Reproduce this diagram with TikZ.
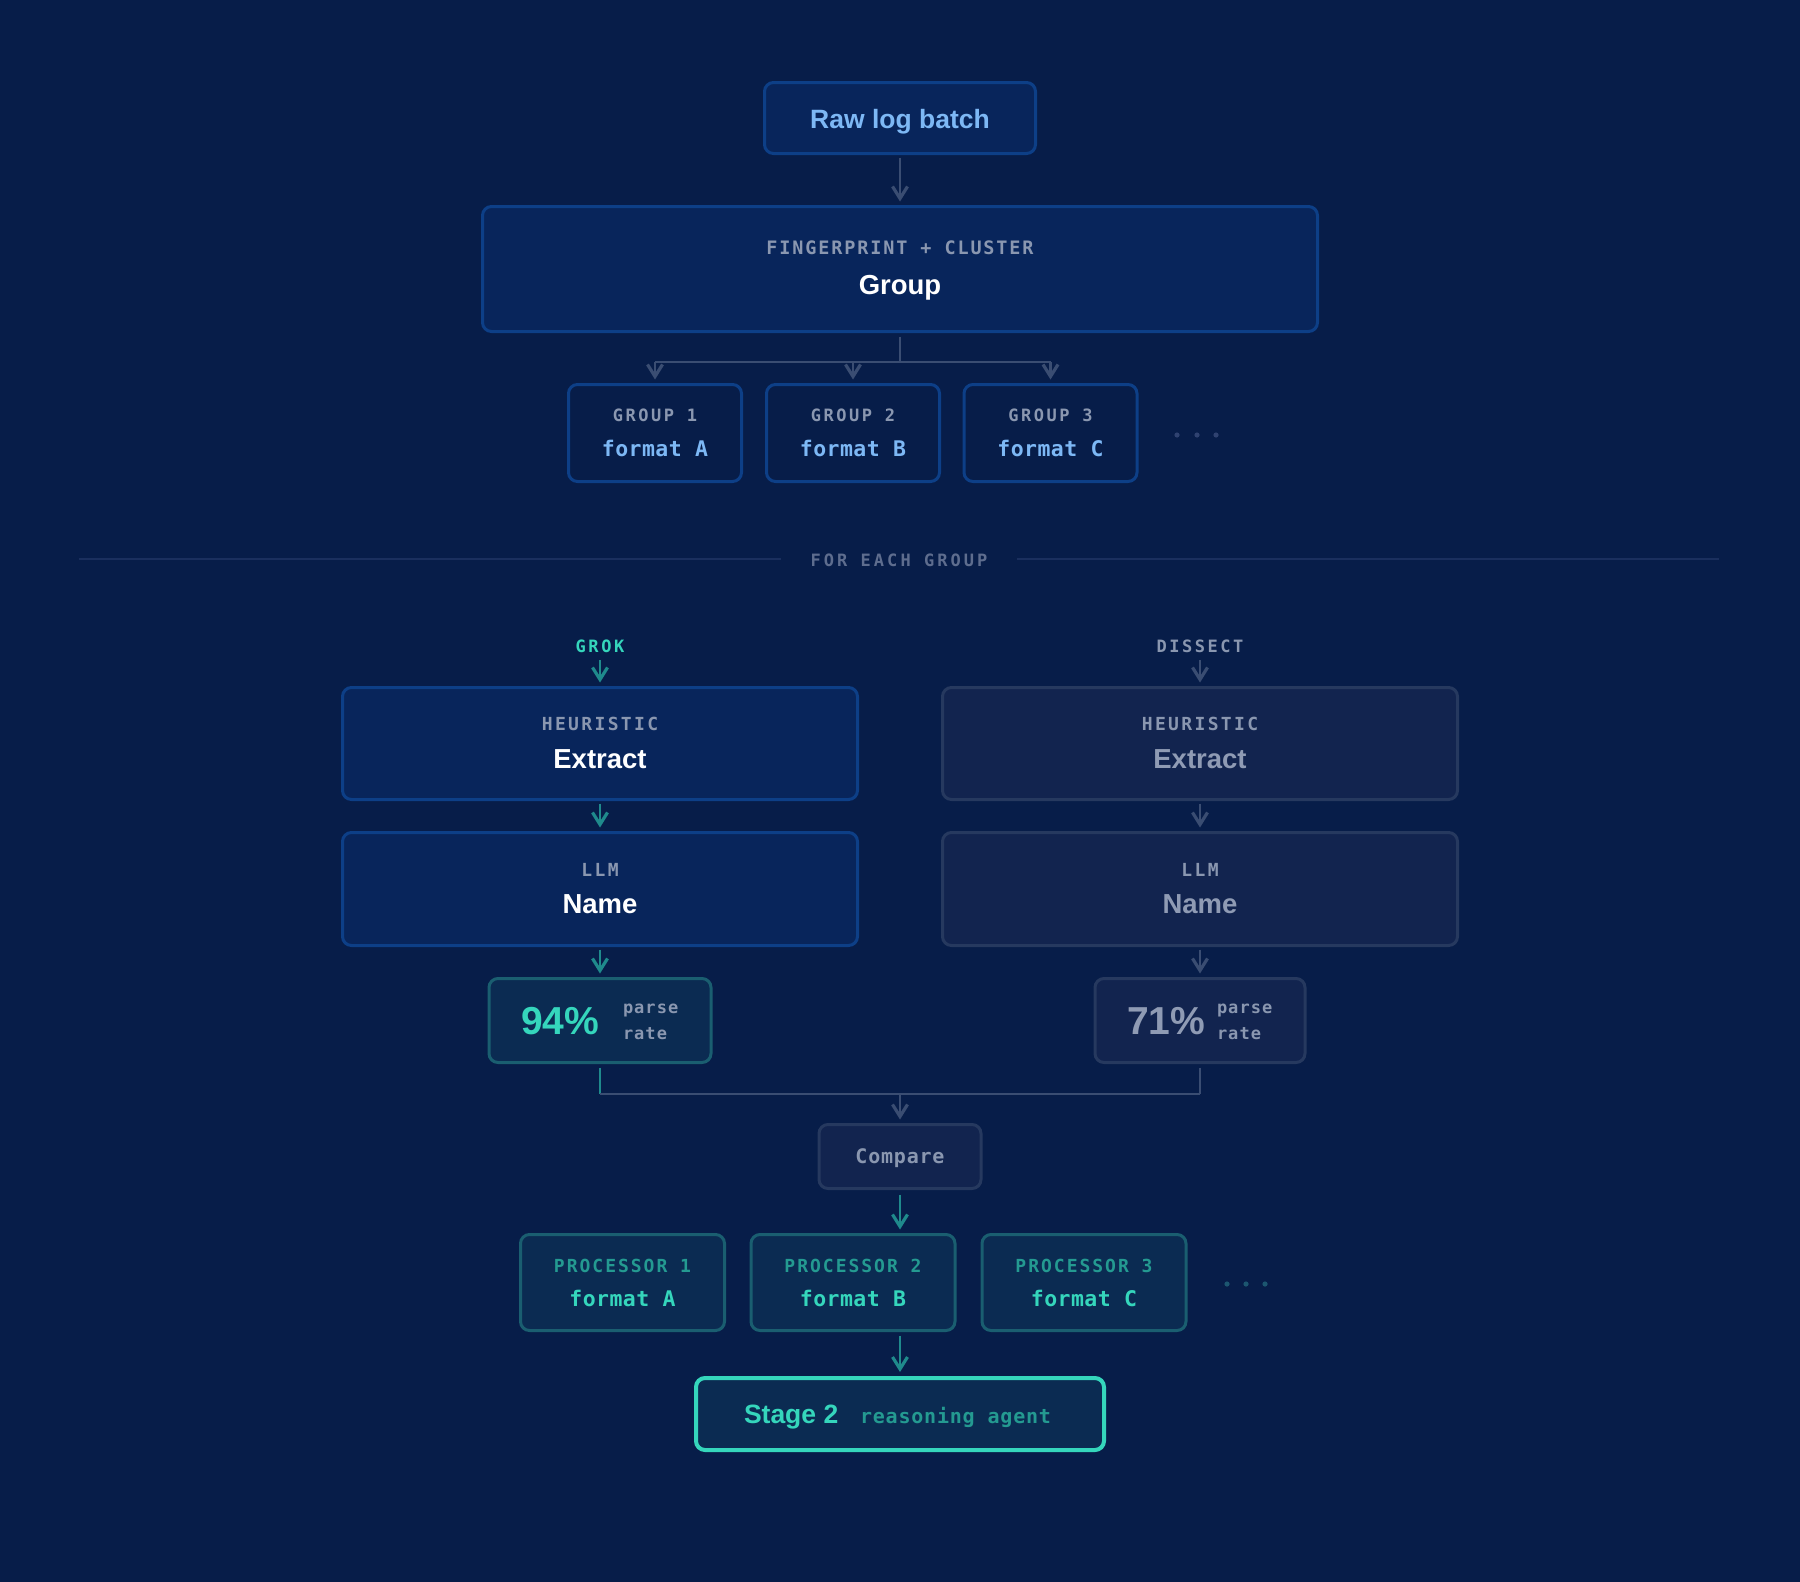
\documentclass[tikz,border=0pt]{standalone}
\usepackage{fontspec}
\setmainfont{Liberation Sans}
\newfontfamily\monofam{DejaVu Sans Mono}
\usetikzlibrary{arrows.meta}

\definecolor{bg}{HTML}{071D49}
\definecolor{boxfill}{HTML}{08255B}
\definecolor{boxline}{HTML}{0D3F87}
\definecolor{dimfill}{HTML}{12244F}
\definecolor{dimline}{HTML}{26395F}
\definecolor{tealfill}{HTML}{0B2B52}
\definecolor{tealline}{HTML}{1A5E70}
\definecolor{tealbright}{HTML}{35D6BC}
\definecolor{tealarr}{HTML}{1F8A8C}
\definecolor{tealdim}{HTML}{249A91}
\definecolor{lightblue}{HTML}{7DB8F5}
\definecolor{greytext}{HTML}{8A97B0}
\definecolor{dimtext}{HTML}{8F9BB4}
\definecolor{arrgrey}{HTML}{3A4D72}
\definecolor{divline}{HTML}{1A2F5E}
\definecolor{divtext}{HTML}{5E6D8E}
\definecolor{dotgrey}{HTML}{2F4270}
\definecolor{dotteal}{HTML}{1C5670}

\newcommand{\mfont}[2]{\monofam\bfseries\fontsize{#1}{#1}\selectfont\addfontfeature{LetterSpace=#2}}
\newcommand{\sfont}[1]{\bfseries\fontsize{#1}{#1}\selectfont}

\tikzset{
  box/.style={draw, rounded corners=9pt, line width=3pt, outer sep=0pt, inner sep=0pt},
  bluebox/.style={box, fill=boxfill, draw=boxline},
  grpbox/.style={box, fill=bg, draw=boxline},
  dimbox/.style={box, fill=dimfill, draw=dimline},
  tealbox/.style={box, fill=tealfill, draw=tealline},
  stagebox/.style={box, fill=tealfill, draw=tealbright, line width=4pt},
  txt/.style={inner sep=0pt, outer sep=0pt, anchor=base},
  txtw/.style={inner sep=0pt, outer sep=0pt, anchor=base west},
  conn/.style={line width=2.5pt, draw=arrgrey},
  tconn/.style={line width=2.5pt, draw=tealarr},
  arr/.style={conn, -{Straight Barb[length=12pt,width=15pt,line width=3.2pt]}},
  tarr/.style={tconn, -{Straight Barb[length=12pt,width=15pt,line width=3.2pt]}},
}

\begin{document}
\begin{tikzpicture}[x=1pt,y=-1pt]
\fill[bg] (0,0) rectangle (1800,1582);
\useasboundingbox (0,0) rectangle (1800,1582);

% ---- top part
\node[bluebox, minimum width=271pt, minimum height=71pt] (raw) at (900,118) {};
\node[txt, text=lightblue, font=\sfont{26.5}] (rawt) at (900,128) {Raw log batch};

\node[bluebox, minimum width=835pt, minimum height=125pt] (grp) at (900,269) {};
\node[txt, text=greytext, font=\mfont{18.5}{10}] (grpk) at (900,254) {FINGERPRINT + CLUSTER};
\node[txt, text=white, font=\sfont{27.5}] (grpt) at (900,294) {Group};

\draw[arr] ([yshift=-4pt]raw.south) -- ([yshift=5pt]grp.north);

\foreach \i/\cx/\f in {1/655/A,2/853/B,3/1050.5/C}{
  \node[grpbox, minimum width=173pt, minimum height=97pt] (g\i) at (\cx,433) {};
  \node[txt, text=greytext, font=\mfont{17}{15}] (g\i k) at (\cx,421.5) {GROUP \i};
  \node[txt, text=lightblue, font=\mfont{21.5}{2}] (g\i t) at (\cx,456) {format \f};
}
\coordinate (fan) at (900,362);
\draw[conn] ([yshift=-5pt]grp.south) -- (fan);
\draw[conn] (fan -| g1.north) -- (fan -| g3.north);
\foreach \i in {1,2,3}{
  \draw[arr] (fan -| g\i.north) -- ([yshift=5pt]g\i.north);
}
\foreach \x in {1177,1197,1216}{ \fill[dotgrey] (\x,435) circle (2.6pt); }

% ---- divider
\node[txt, text=divtext, font=\mfont{17}{18}] (each) at (899,566) {FOR EACH GROUP};
\draw[divline, line width=2pt] (79,559) -- (781,559);
\draw[divline, line width=2pt] (1017,559) -- (1719,559);

% ---- GROK column
\node[txt, text=tealbright, font=\mfont{17}{15}] (grok) at (600,652) {GROK};
\node[bluebox, minimum width=515pt, minimum height=112pt] (ex1) at (600,743.5) {};
\node[txt, text=greytext, font=\mfont{18}{13}] (ex1k) at (600,730) {HEURISTIC};
\node[txt, text=white, font=\sfont{27.5}] (ex1t) at (600,768) {Extract};
\node[bluebox, minimum width=515pt, minimum height=113pt] (nm1) at (600,889) {};
\node[txt, text=greytext, font=\mfont{18}{13}] (nm1k) at (600,876) {LLM};
\node[txt, text=white, font=\sfont{27.5}] (nm1t) at (600,913) {Name};
\node[tealbox, minimum width=222pt, minimum height=84pt] (pr1) at (600,1020.5) {};
\node[txtw, text=tealbright, font=\sfont{39}] (pr1v) at (521,1034) {94\%};
\node[txtw, text=greytext, font=\mfont{17}{6}] (pr1a) at (623,1013) {parse};
\node[txtw, text=greytext, font=\mfont{17}{6}] (pr1b) at (623,1039) {rate};

\draw[tarr] ([yshift=-8pt]grok.base) -- ([yshift=5pt]ex1.north);
\draw[tarr] ([yshift=-4pt]ex1.south) -- ([yshift=5pt]nm1.north);
\draw[tarr] ([yshift=-4pt]nm1.south) -- ([yshift=5pt]pr1.north);

% ---- DISSECT column
\node[txt, text=greytext, font=\mfont{17}{15}] (dis) at (1200,652) {DISSECT};
\node[dimbox, minimum width=515pt, minimum height=112pt] (ex2) at (1200,743.5) {};
\node[txt, text=greytext, font=\mfont{18}{13}] (ex2k) at (1200,730) {HEURISTIC};
\node[txt, text=dimtext, font=\sfont{27.5}] (ex2t) at (1200,768) {Extract};
\node[dimbox, minimum width=515pt, minimum height=113pt] (nm2) at (1200,889) {};
\node[txt, text=greytext, font=\mfont{18}{13}] (nm2k) at (1200,876) {LLM};
\node[txt, text=dimtext, font=\sfont{27.5}] (nm2t) at (1200,913) {Name};
\node[dimbox, minimum width=210pt, minimum height=84pt] (pr2) at (1200,1020.5) {};
\node[txtw, text=dimtext, font=\sfont{39}] (pr2v) at (1127,1034) {71\%};
\node[txtw, text=greytext, font=\mfont{17}{6}] (pr2a) at (1217,1013) {parse};
\node[txtw, text=greytext, font=\mfont{17}{6}] (pr2b) at (1217,1039) {rate};

\draw[arr] ([yshift=-8pt]dis.base) -- ([yshift=5pt]ex2.north);
\draw[arr] ([yshift=-4pt]ex2.south) -- ([yshift=5pt]nm2.north);
\draw[arr] ([yshift=-4pt]nm2.south) -- ([yshift=5pt]pr2.north);

% ---- merge and compare
\node[dimbox, minimum width=162pt, minimum height=64pt] (cmp) at (900,1156.5) {};
\node[txt, text=greytext, font=\mfont{20}{4}] (cmpt) at (900,1163) {Compare};
\coordinate (mL) at (600,1094);
\coordinate (mR) at (1200,1094);
\coordinate (mC) at (900,1094);
\draw[tconn] ([yshift=-5pt]pr1.south) -- (mL);
\draw[conn] (mL) -- (mR);
\draw[conn] ([yshift=-5pt]pr2.south) -- (mR);
\draw[arr] (mC) -- ([yshift=5pt]cmp.north);

% ---- processors
\foreach \i/\cx/\f in {1/622.5/A,2/853/B,3/1084/C}{
  \node[tealbox, minimum width=204pt, minimum height=96pt] (p\i) at (\cx,1282.5) {};
  \node[txt, text=tealdim, font=\mfont{18}{11}] (p\i k) at (\cx,1272.7) {PROCESSOR \i};
  \node[txt, text=tealbright, font=\mfont{21.5}{2}] (p\i t) at (\cx,1306) {format \f};
}
\foreach \x in {1227,1246,1265}{ \fill[dotteal] (\x,1284) circle (2.6pt); }
\draw[tarr] ([yshift=-6pt]cmp.south) -- ([yshift=5pt]cmp.south |- p2.north);

% ---- stage 2
\node[stagebox, minimum width=408pt, minimum height=72pt] (stage) at (900,1414) {};
\node[txtw, text=tealbright, font=\sfont{26.5}] (stt) at (744,1423) {Stage 2};
\node[txtw, text=tealdim, font=\mfont{20}{4}] (sts) at (860,1423) {reasoning agent};
\draw[tarr] ([yshift=-5pt]p2.south -| stage.north) -- ([yshift=6pt]stage.north);

\end{tikzpicture}
\end{document}
